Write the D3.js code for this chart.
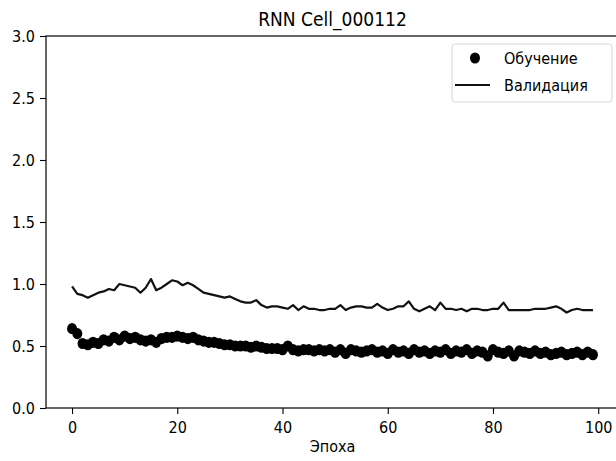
<!DOCTYPE html>
<meta charset="utf-8">
<title>RNN Cell_000112</title>
<style>
  body { margin: 0; background: #fff; }
  svg text { font-family: "DejaVu Sans", sans-serif; font-stretch: condensed; fill: #000; }
</style>
<body>
<script src="https://d3js.org/d3.v7.min.js"></script>
<script>
const width = 616;
const height = 461;

// epochs 0..99
const epochs = d3.range(100);
// training loss (dots)
const train = [
  0.64, 0.60, 0.52, 0.51, 0.53, 0.52, 0.55, 0.54, 0.57, 0.55,
  0.58, 0.56, 0.57, 0.55, 0.54, 0.55, 0.53, 0.56, 0.57, 0.57,
  0.58, 0.57, 0.56, 0.57, 0.55, 0.54, 0.53, 0.53, 0.52, 0.51,
  0.51, 0.50, 0.50, 0.50, 0.49, 0.50, 0.49, 0.48, 0.48, 0.48,
  0.47, 0.50, 0.47, 0.46, 0.47, 0.47, 0.46, 0.47, 0.46, 0.47,
  0.45, 0.47, 0.44, 0.47, 0.46, 0.45, 0.46, 0.47, 0.45, 0.46,
  0.44, 0.47, 0.45, 0.46, 0.44, 0.47, 0.45, 0.46, 0.44, 0.46,
  0.45, 0.47, 0.44, 0.46, 0.45, 0.47, 0.44, 0.46, 0.45, 0.42,
  0.47, 0.45, 0.44, 0.46, 0.42, 0.46, 0.45, 0.44, 0.46, 0.44,
  0.45, 0.43, 0.44, 0.45, 0.43, 0.44, 0.45, 0.43, 0.45, 0.43
];
// validation loss (line)
const valid = [
  0.98, 0.92, 0.91, 0.89, 0.91, 0.93, 0.94, 0.96, 0.95, 1.00,
  0.99, 0.98, 0.97, 0.93, 0.97, 1.04, 0.95, 0.97, 1.00, 1.03,
  1.02, 0.99, 1.01, 0.99, 0.96, 0.93, 0.92, 0.91, 0.90, 0.89,
  0.90, 0.88, 0.86, 0.85, 0.85, 0.87, 0.83, 0.81, 0.82, 0.82,
  0.81, 0.80, 0.83, 0.79, 0.82, 0.80, 0.80, 0.79, 0.79, 0.80,
  0.80, 0.83, 0.79, 0.81, 0.82, 0.82, 0.81, 0.81, 0.84, 0.81,
  0.79, 0.80, 0.82, 0.82, 0.86, 0.80, 0.78, 0.80, 0.82, 0.79,
  0.85, 0.80, 0.80, 0.79, 0.80, 0.78, 0.80, 0.80, 0.79, 0.79,
  0.80, 0.80, 0.85, 0.79, 0.79, 0.79, 0.79, 0.79, 0.80, 0.80,
  0.80, 0.81, 0.82, 0.80, 0.77, 0.79, 0.80, 0.79, 0.79, 0.79
];
const xTicks = [0, 20, 40, 60, 80, 100];
const yTicks = [0, 0.5, 1.0, 1.5, 2.0, 2.5, 3.0];

const svg = d3.select("body")
  .append("svg")
  .attr("width", width)
  .attr("height", height);

// plot area (right spine falls just past the picture edge)
const plotLeft = 46, plotRight = 619, plotTop = 36, plotBottom = 408;

const x = d3.scaleLinear().domain([-4.95, 103.95]).range([plotLeft, plotRight]);
const y = d3.scaleLinear().domain([0, 3]).range([plotBottom, plotTop]);

// axes
const xAxis = d3.axisBottom(x).tickValues(xTicks).tickSize(6).tickPadding(5).tickFormat(d3.format("d"));
const yAxis = d3.axisLeft(y).tickValues(yTicks).tickSize(6).tickPadding(5).tickFormat(d3.format(".1f"));

const gx = svg.append("g").attr("transform", `translate(0,${plotBottom})`).call(xAxis);
const gy = svg.append("g").attr("transform", `translate(${plotLeft},0)`).call(yAxis);

[gx, gy].forEach(g => {
  g.select(".domain").remove();
  g.selectAll(".tick line").attr("stroke", "#000").attr("stroke-width", 1.1);
  g.selectAll(".tick text").attr("font-size", 16).attr("font-family", null).attr("fill", "#222");
});
gx.selectAll(".tick text").attr("dy", "0.85em");

// spines
svg.append("rect")
  .attr("x", plotLeft).attr("y", plotTop)
  .attr("width", plotRight - plotLeft).attr("height", plotBottom - plotTop)
  .attr("fill", "none").attr("stroke", "#000").attr("stroke-width", 1.2);

// training dots (picture is stretched a bit vertically, so slightly oval)
svg.append("g")
  .selectAll("ellipse")
  .data(epochs)
  .enter()
  .append("ellipse")
  .attr("cx", i => x(i))
  .attr("cy", i => y(train[i]))
  .attr("rx", 5)
  .attr("ry", 5.6)
  .attr("fill", "#000");

// validation line
svg.append("path")
  .datum(epochs)
  .attr("fill", "none")
  .attr("stroke", "#111")
  .attr("stroke-width", 2.2)
  .attr("stroke-linejoin", "round")
  .attr("d", d3.line().x(i => x(i)).y(i => y(valid[i])));

// title and axis label
svg.append("text")
  .attr("x", (plotLeft + plotRight) / 2)
  .attr("y", 26)
  .attr("text-anchor", "middle")
  .attr("font-size", 19)
  .text("RNN Cell_000112");

svg.append("text")
  .attr("x", (plotLeft + plotRight) / 2)
  .attr("y", 452)
  .attr("text-anchor", "middle")
  .attr("font-size", 16)
  .text("Эпоха");

// legend
const lg = svg.append("g");
lg.append("rect")
  .attr("x", 452).attr("y", 44)
  .attr("width", 160).attr("height", 58)
  .attr("rx", 3)
  .attr("fill", "#fff").attr("fill-opacity", 0.8)
  .attr("stroke", "#d6d6d6").attr("stroke-width", 1);
lg.append("ellipse")
  .attr("cx", 475).attr("cy", 58).attr("rx", 5).attr("ry", 5.6).attr("fill", "#000");
lg.append("line")
  .attr("x1", 455).attr("x2", 490).attr("y1", 85).attr("y2", 85)
  .attr("stroke", "#111").attr("stroke-width", 2.2);
lg.append("text")
  .attr("x", 504).attr("y", 64).attr("font-size", 16).text("Обучение");
lg.append("text")
  .attr("x", 504).attr("y", 91).attr("font-size", 16).text("Валидация");
</script>
</body>
